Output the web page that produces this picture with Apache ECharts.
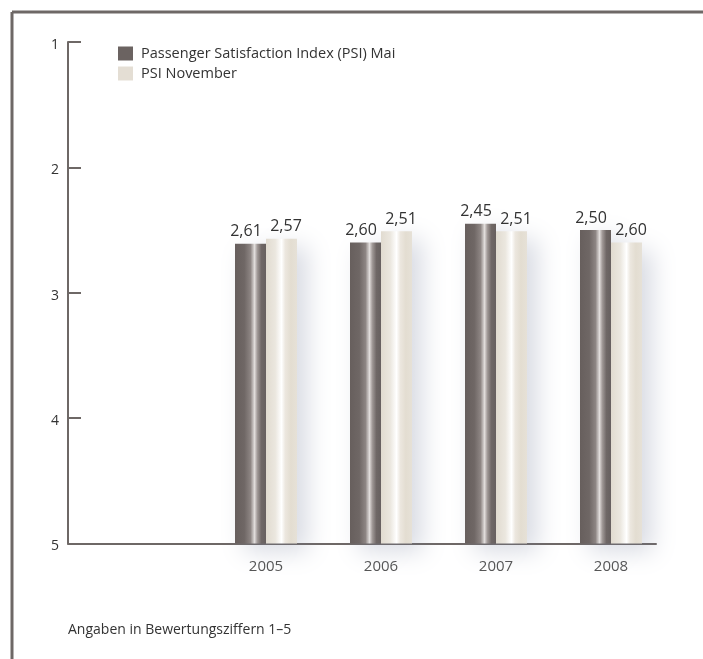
<!DOCTYPE html>
<html>
<head>
<meta charset="utf-8">
<script src="https://cdn.jsdelivr.net/npm/echarts@6/dist/echarts.min.js"></script>
<style>
  html, body { margin: 0; padding: 0; background: #fff; }
  #chart { width: 703px; height: 659px; }
</style>
</head>
<body>
<div id="chart"></div>
<script>
// PSI ratings per year (scale 1 = best, 5 = worst)
const years = ['2005', '2006', '2007', '2008'];
const psiMai = [2.61, 2.60, 2.45, 2.50];
const psiNovember = [2.57, 2.51, 2.51, 2.60];
const seriesNames = ['Passenger Satisfaction Index (PSI) Mai', 'PSI November'];
const yTicks = [1, 2, 3, 4, 5];
const footnote = 'Angaben in Bewertungsziffern 1\u20135';

const FONT = '"Open Sans", "Noto Sans", sans-serif';
const LINE = '#6e6866';
const AXIS_MIN = yTicks[0];
const AXIS_MAX = yTicks[yTicks.length - 1];
const BAR_W = 31;

const darkFill = new echarts.graphic.LinearGradient(0, 0, 1, 0, [
  { offset: 0, color: '#675f5d' },
  { offset: 0.3, color: '#6f6765' },
  { offset: 0.5, color: '#8d8583' },
  { offset: 0.63, color: '#e2dedc' },
  { offset: 0.72, color: '#a29a98' },
  { offset: 0.85, color: '#6f6765' },
  { offset: 1, color: '#675f5d' }
]);
const lightFill = new echarts.graphic.LinearGradient(0, 0, 1, 0, [
  { offset: 0, color: '#e1dbd0' },
  { offset: 0.3, color: '#ebe7df' },
  { offset: 0.5, color: '#ffffff' },
  { offset: 0.62, color: '#ece7df' },
  { offset: 0.8, color: '#e3ddd1' },
  { offset: 1, color: '#e6e1d7' }
]);

function fmt(v) { return v.toFixed(2).replace('.', ','); }

// bars grow up from the bottom of the inverted scale (value 5) to the rating
function barRenderer(side, fill) {
  return function (params, api) {
    const cat = api.value(0);
    const val = api.value(1);
    const top = api.coord([cat, val]);
    const base = api.coord([cat, AXIS_MAX]);
    const x = side < 0 ? top[0] - BAR_W : top[0];
    return {
      type: 'group',
      children: [
        {
          type: 'rect',
          shape: { x: x, y: top[1], width: BAR_W, height: base[1] - top[1] },
          style: {
            fill: fill,
            shadowBlur: 24,
            shadowColor: 'rgba(110,120,150,0.28)',
            shadowOffsetX: 10,
            shadowOffsetY: 8
          }
        },
        {
          type: 'text',
          style: {
            text: fmt(val),
            x: x + BAR_W / 2 + side * 4.5,
            y: top[1] - 4,
            align: 'center',
            verticalAlign: 'bottom',
            font: '16px ' + FONT,
            fill: '#333'
          }
        }
      ]
    };
  };
}

const chart = echarts.init(document.getElementById('chart'), null, { renderer: 'canvas' });
chart.setOption({
  animation: false,
  backgroundColor: '#fff',
  grid: [
    { left: 68, right: 47, top: 42, bottom: 115.5 },
    { left: 208.5, right: 34.5, top: 42, bottom: 115.5 }
  ],
  xAxis: [
    {
      gridIndex: 0, type: 'category', data: [''],
      axisLine: { show: true, lineStyle: { color: LINE, width: 2 } },
      axisTick: { show: false }, axisLabel: { show: false }
    },
    {
      gridIndex: 1, type: 'category', data: years,
      axisLine: { show: false }, axisTick: { show: false },
      axisLabel: { margin: 16, color: '#555', fontSize: 15, fontFamily: FONT }
    }
  ],
  yAxis: [
    {
      gridIndex: 0, type: 'value', inverse: true,
      min: AXIS_MIN, max: AXIS_MAX, interval: 1,
      axisLine: { show: true, lineStyle: { color: LINE, width: 2 } },
      axisTick: { show: true, inside: true, length: 13, lineStyle: { color: LINE, width: 2 } },
      axisLabel: { margin: 9, color: '#333', fontSize: 14, fontFamily: FONT, verticalAlign: 'top', padding: [-4, 0, 0, 0] },
      splitLine: { show: false }
    },
    {
      gridIndex: 1, type: 'value', inverse: true,
      min: AXIS_MIN, max: AXIS_MAX, interval: 1,
      show: false
    }
  ],
  legend: {
    orient: 'vertical',
    left: 113, top: 41,
    itemWidth: 15, itemHeight: 14, itemGap: 5,
    icon: 'rect',
    textStyle: { color: '#333', fontSize: 14.5, fontFamily: FONT, padding: [0, 0, 0, 3] },
    data: seriesNames
  },
  series: [
    {
      name: seriesNames[0], type: 'custom', xAxisIndex: 1, yAxisIndex: 1,
      itemStyle: { color: '#6b6361' },
      renderItem: barRenderer(-1, darkFill),
      data: psiMai.map((v, i) => [i, v])
    },
    {
      name: seriesNames[1], type: 'custom', xAxisIndex: 1, yAxisIndex: 1,
      itemStyle: { color: '#e4ded4' },
      renderItem: barRenderer(1, lightFill),
      data: psiNovember.map((v, i) => [i, v])
    }
  ],
  graphic: [
    { type: 'line', shape: { x1: 12, y1: 12, x2: 703, y2: 12 }, style: { stroke: LINE, lineWidth: 3 } },
    { type: 'line', shape: { x1: 12, y1: 12, x2: 12, y2: 659 }, style: { stroke: LINE, lineWidth: 3 } },
    {
      type: 'text', left: 68, top: 623,
      style: { text: footnote, font: '14px ' + FONT, fill: '#333' }
    }
  ]
});
</script>
</body>
</html>
